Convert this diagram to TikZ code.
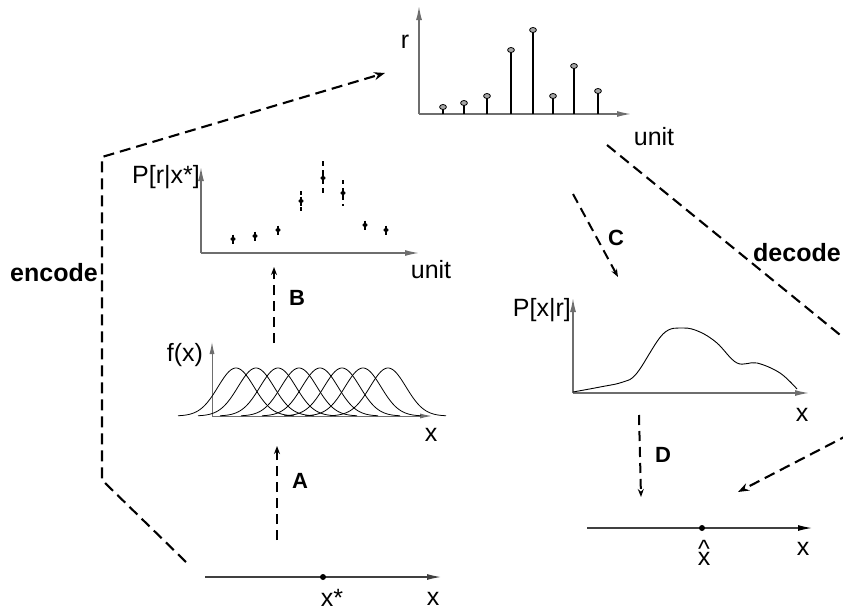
\documentclass[tikz,border=0pt]{standalone}
\usepackage{fontspec}
\setmainfont{Liberation Sans}
\usetikzlibrary{arrows.meta}
\definecolor{axgray}{HTML}{6E6E6E}
\begin{document}
\begin{tikzpicture}[x=1pt,y=-1pt,
  lbl/.style={inner sep=0pt,font=\fontsize{25}{28}\selectfont},
  blbl/.style={inner sep=0pt,font=\fontsize{25}{28}\selectfont\bfseries},
  let/.style={inner sep=0pt,font=\fontsize{22}{26}\selectfont\bfseries},
  axis/.style={draw=axgray,line width=1.4pt,-{Latex[length=14pt,width=6pt]}},
  darr/.style={line width=2pt,dash pattern=on 10pt off 6pt,-{Stealth[length=8pt,width=6pt]}},
  dline/.style={line width=2.1pt,dash pattern=on 11pt off 6pt},
  stem/.style={line width=2pt},
  knob/.style={draw=black,fill=gray!70,line width=0.8pt},
  gauss/.style={line width=0.8pt}]
\useasboundingbox (0,0) rectangle (843,613);

% ---------- top plot: r vs unit
\coordinate (t0) at (419,114);
\draw[axis] (t0) -- (419,6) coordinate (ttop);
\draw[axis] (t0) -- (631,114) coordinate (tright);
\node[lbl] (tr) at (405,42) {r};
\node[lbl] (tunit) at (654,137) {unit};
\foreach \px/\py in {443/107,464/103,487/96,511/50,533/30,553/96,574/66,598/91}{
  \draw[stem] (\px,114) -- (\px,\py);
  \draw[knob] (\px,\py) ellipse (3.4pt and 2.5pt);
}

% ---------- P[r|x*] plot
\coordinate (m0) at (201,253);
\draw[axis] (m0) -- (201,167) coordinate (mtop);
\draw[axis] (m0) -- (419,253) coordinate (mright);
\node[lbl,anchor=east] (mlab) at (200,177) {P[r|x*]};
\node[lbl] (munit) at (431,270) {unit};
\foreach \px/\py in {233/239,255/236,278/230,301/201,323/178,343/193,365/225,386/230}{
  \fill (\px,\py) ellipse (2.6pt and 1.8pt);
  \draw[line width=1.6pt] (\px,\py-4.5) -- (\px,\py+4.5);
}
\draw[line width=1.5pt,dash pattern=on 4pt off 4pt] (301,191) -- (301,211);
\draw[line width=1.5pt,dash pattern=on 5pt off 4pt] (323,161) -- (323,196);
\draw[line width=1.5pt,dash pattern=on 4pt off 4pt] (343,180) -- (343,206);

% ---------- f(x) plot
\coordinate (f0) at (212,416);
\draw[axis,line width=1pt,-{Latex[length=12pt,width=5pt]}] (f0) -- (212,342) coordinate (ftop);
\draw[axis,line width=1pt,-{Latex[length=12pt,width=5pt]}] (f0) -- (432,416) coordinate (fright);
\node[lbl] (flab) at (185,355) {f(x)};
\node[lbl] (fx) at (431,435) {x};
\foreach \c in {236,256,278,299,320,342,363,388}{
  \draw[gauss] plot[domain=-58:58,samples=70,smooth] ({\c+\x},{416-48*exp(-(\x*\x)/(2*18*18))});
}

% ---------- P[x|r] plot
\coordinate (p0) at (573,393);
\draw[axis] (p0) -- (573,298) coordinate (ptop);
\draw[axis] (p0) -- (809,393) coordinate (pright);
\node[lbl,anchor=east] (plab) at (571,310) {P[x|r]};
\node[lbl] (px) at (802,415) {x};
\draw[line width=0.9pt] plot[smooth,tension=0.6] coordinates {(573,392) (600,387) (623,382) (637,373) (663,334) (683,328) (700,332) (717,343) (737,363) (757,363) (780,373) (797,389)};

% ---------- bottom-left line
\coordinate (bl0) at (205,577);
\draw[axis,draw=black!75,line width=1.2pt,-{Latex[length=14pt,width=6pt]}] (bl0) -- (441,577) coordinate (blend);
\fill (323,577) circle (3pt) coordinate (xstar);
\node[lbl] (xs) at (332,598) {x*};
\node[lbl] (bx) at (433,599) {x};

% ---------- bottom-right line
\coordinate (br0) at (587,528);
\draw[draw=black!75,line width=1.2pt,-{Latex[length=14pt,width=6pt,color=black]}] (br0) -- (812,528) coordinate (brend);
\fill (702,528) circle (3pt) coordinate (xhat);
\node[lbl,anchor=base] (xh) at (704,565) {\makebox[0pt][l]{\hspace{0.4pt}\raisebox{8pt}{\textasciicircum}}x};
\node[lbl] (brx) at (803,549) {x};

% ---------- dashed process arrows
\coordinate (a1) at (277,540); \coordinate (a2) at (277,446);
\draw[darr] (a1) -- (a2);
\node[let] (A) at (300,481) {A};
\coordinate (b1) at (274,343); \coordinate (b2) at (274,267);
\draw[darr] (b1) -- (b2);
\node[let] (B) at (297,298) {B};
\coordinate (c1) at (573,194); \coordinate (c2) at (618,277);
\draw[darr] (c1) -- (c2);
\node[let] (C) at (616,238) {C};
\coordinate (d1) at (639,415); \coordinate (d2) at (641,497);
\draw[darr] (d1) -- (d2);
\node[let] (D) at (663,455) {D};

% ---------- encode
\coordinate (e1) at (186,562); \coordinate (e2) at (102,480);
\coordinate (e3) at (102,157); \coordinate (e4) at (385,73);
\draw[dline,-{Stealth[length=11pt,width=8pt]}] (e1) -- (e2) -- (e3) -- (e4);
\node[blbl] (enc) at (54,273) {encode};

% ---------- decode
\coordinate (g1) at (607,145); \coordinate (g2) at (850,343);
\draw[dline] (g1) -- (g2);
\coordinate (h1) at (850,434); \coordinate (h2) at (738,492);
\draw[dline,-{Stealth[length=11pt,width=8pt]}] (h1) -- (h2);
\node[blbl,anchor=west] (dec) at (753,253) {decode};
\end{tikzpicture}
\end{document}
